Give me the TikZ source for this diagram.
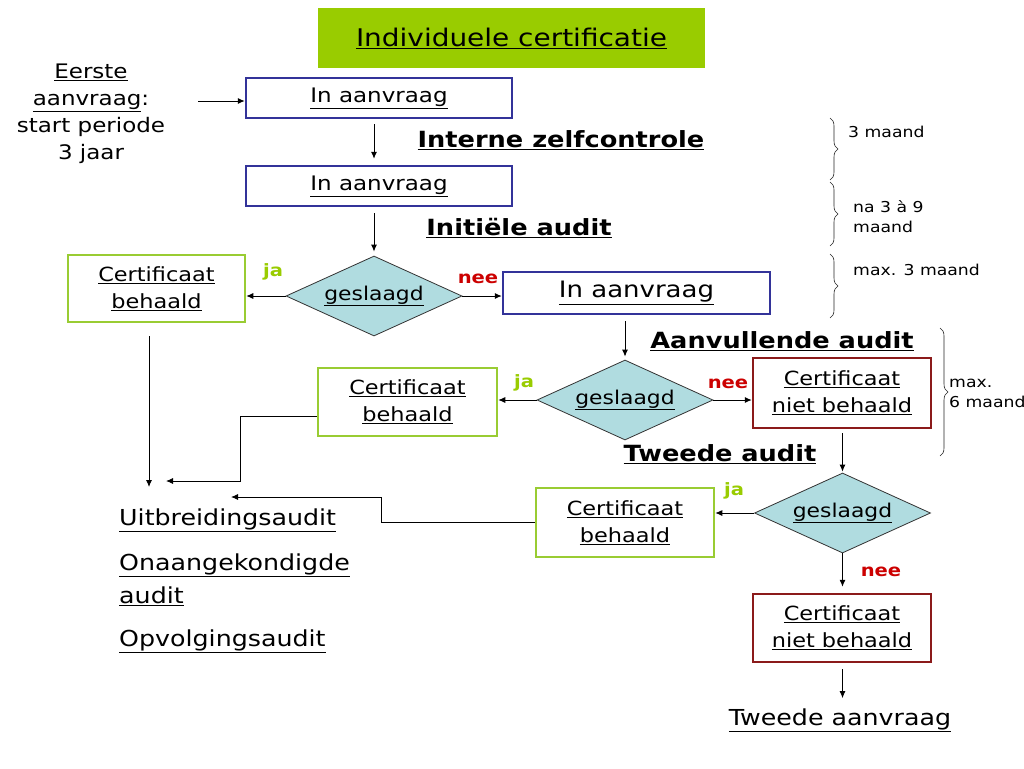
\documentclass[tikz,border=0pt]{standalone}
\usepackage{fontspec}
\setmainfont{DejaVu Sans}[FakeStretch=1.15]
\usetikzlibrary{shapes.geometric,arrows.meta,decorations.pathreplacing}
\definecolor{titlegreen}{HTML}{99CC00}
\definecolor{boxgreen}{HTML}{99CC33}
\definecolor{boxblue}{HTML}{333399}
\definecolor{boxred}{HTML}{8B1A1A}
\definecolor{dfill}{HTML}{B0DCE0}
\definecolor{jagreen}{HTML}{99CC00}
\definecolor{neered}{HTML}{CC0000}
\newcommand{\uln}[1]{\underline{#1}}
\tikzset{
  box/.style={draw, line width=2.5pt, inner sep=0pt, align=center, font=\fontsize{19.5}{27}\selectfont},
  bluebox/.style={box, draw=boxblue},
  greenbox/.style={box, draw=boxgreen},
  redbox/.style={box, draw=boxred},
  dec/.style={diamond, draw=black!80, fill=dfill, line width=0.8pt, inner sep=0pt, aspect=2.2,
    minimum width=176pt, minimum height=80pt, font=\fontsize{19}{25}\selectfont},
  head/.style={font=\fontsize{22.3}{26}\bfseries\selectfont, inner sep=0pt},
  ja/.style={text=jagreen, font=\fontsize{17}{20}\bfseries\selectfont, inner sep=0pt},
  nee/.style={text=neered, font=\fontsize{17}{20}\bfseries\selectfont, inner sep=0pt},
  conn/.style={line width=0.9pt, -{Latex[length=7pt,width=6pt]}},
  brc/.style={decorate, decoration={brace, amplitude=8pt}, line width=0.6pt, draw=black!85},
  note/.style={font=\fontsize{15}{20}\selectfont, inner sep=0pt, align=left, anchor=west},
  big/.style={font=\fontsize{22}{28}\selectfont, inner sep=0pt}
}
\begin{document}
\begin{tikzpicture}[x=1pt,y=-1pt]
\useasboundingbox (0,0) rectangle (1024,768);
\fill[white] (0,0) rectangle (1024,768);

% title
\node[fill=titlegreen, minimum width=387pt, minimum height=60pt, inner sep=0pt,
  font=\fontsize{24.3}{30}\selectfont] (title) at (511.5,38) {\uln{Individuele certificatie}};

% start text
\node[align=center, inner sep=0pt, font=\fontsize{20}{27}\selectfont] (start) at (91,114)
  {\uln{Eerste}\\\uln{aanvraag}:\\start periode\\3 jaar};
\coordinate (s1) at (198,101);

% boxes
\node[bluebox, minimum width=266pt, minimum height=40pt, font=\fontsize{20}{26}\selectfont] (b1) at (379,98) {\uln{In aanvraag}};
\node[bluebox, minimum width=266pt, minimum height=40pt, font=\fontsize{20}{26}\selectfont] (b2) at (379,186) {\uln{In aanvraag}};
\node[dec] (d1) at (374,296) {\uln{geslaagd}};
\node[greenbox, minimum width=177pt, minimum height=67pt] (g1) at (156.5,288.5) {\uln{Certificaat}\\\uln{behaald}};
\node[bluebox, minimum width=267pt, minimum height=42pt, font=\fontsize{22.6}{28}\selectfont] (b3) at (636.5,293) {\uln{In aanvraag}};
\node[dec] (d2) at (625,400) {\uln{geslaagd}};
\node[greenbox, minimum width=179pt, minimum height=68pt] (g2) at (407.5,402) {\uln{Certificaat}\\\uln{behaald}};
\node[redbox, minimum width=178pt, minimum height=70pt] (r1) at (842,393) {\uln{Certificaat}\\\uln{niet behaald}};
\node[dec] (d3) at (842.5,513) {\uln{geslaagd}};
\node[greenbox, minimum width=178pt, minimum height=69pt] (g3) at (625,522.5) {\uln{Certificaat}\\\uln{behaald}};
\node[redbox, minimum width=178pt, minimum height=68pt] (r2) at (842,628) {\uln{Certificaat}\\\uln{niet behaald}};
\node[big] (ta) at (840,720) {\uln{Tweede aanvraag}};

% headings
\node[head] (h1) at (561,140) {\uln{Interne zelfcontrole}};
\node[head] (h2) at (519,228) {\uln{Initiële audit}};
\node[head] (h3) at (782,341) {\uln{Aanvullende audit}};
\node[head] (h4) at (720,454) {\uln{Tweede audit}};

% ja / nee
\node[ja] (ja1) at (273,272) {ja};
\node[nee] (nee1) at (478,279) {nee};
\node[ja] (ja2) at (524,383) {ja};
\node[nee] (nee2) at (728,384) {nee};
\node[ja] (ja3) at (734,491) {ja};
\node[nee] (nee3) at (881,572) {nee};

% audit list
\node[big, anchor=west] (l1) at (119,520) {\uln{Uitbreidingsaudit}};
\node[big, anchor=west] (l2) at (119,565) {\uln{Onaangekondigde}};
\node[big, anchor=west] (l3) at (119,596) {\uln{audit}};
\node[big, anchor=west] (l4) at (119,641) {\uln{Opvolgingsaudit}};

\coordinate (u1) at (149,487);
\coordinate (u2) at (166,481);
\coordinate (u3) at (231,497);

% connectors
\draw[conn] (s1) -- (s1 -| b1.west);
\draw[conn, shorten <=5pt, shorten >=6pt] (b1.south -| d1.north) -- (b2.north -| d1.north);
\draw[conn, shorten <=6pt, shorten >=4pt] (b2.south -| d1.north) -- (d1.north);
\draw[conn] (d1.west) -- (d1.west -| g1.east);
\draw[conn] (d1.east) -- (d1.east -| b3.west);
\draw[conn, shorten <=6pt, shorten >=3pt] (b3.south -| d2.north) -- (d2.north);
\draw[conn] (d2.west) -- (d2.west -| g2.east);
\draw[conn] (d2.east) -- (d2.east -| r1.west);
\draw[conn, shorten <=4pt, shorten >=1pt] (r1.south -| d3.north) -- (d3.north);
\draw[conn] (d3.west) -- (d3.west -| g3.east);
\draw[conn, shorten >=6pt] (d3.south) -- (r2.north -| d3.south);
\draw[conn, shorten <=6pt, shorten >=10pt] (r2.south -| d3.south) -- (ta.north -| d3.south);
\draw[conn, shorten <=13pt] (g1.south -| u1) -- (u1);
\draw[conn] ([yshift=-14pt]g2.west) -- ++(-76,0) |- (u2);
\draw[conn] (g3.west) -- ++(-153,0) |- (u3);

% braces
\draw[brc] (830,118) -- (830,180);
\draw[brc] (830,182) -- (830,246);
\draw[brc] (830,254) -- (830,318);
\draw[brc] (940,328) -- (940,456);
\node[note] (n1) at (848,132) {3 maand};
\node[note] (n2) at (853,217) {na 3 à 9\\maand};
\node[note] (n3) at (853,270) {max. 3 maand};
\node[note] (n4) at (949,393) {max.\\6 maand};
\end{tikzpicture}
\end{document}
